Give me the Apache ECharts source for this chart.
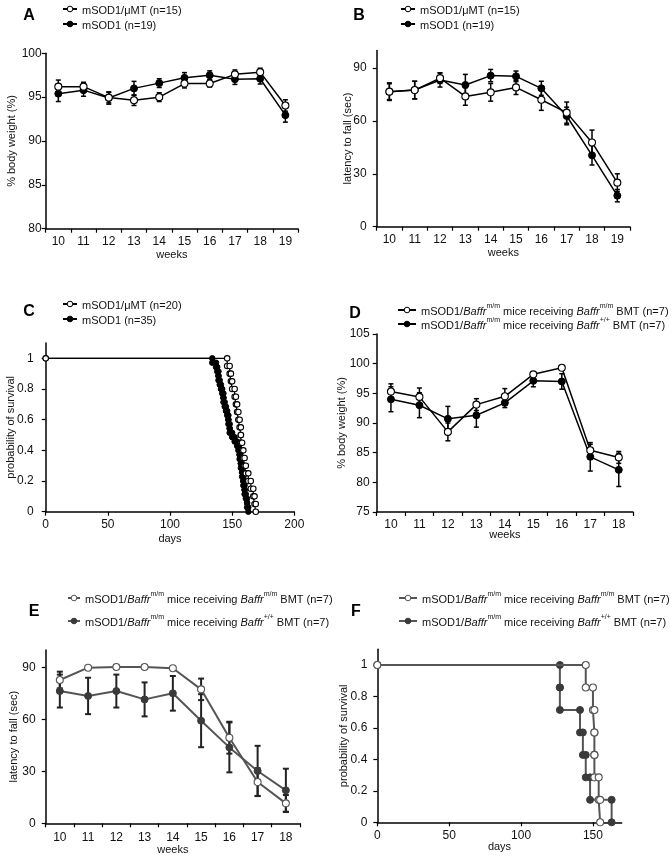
<!DOCTYPE html>
<html><head><meta charset="utf-8">
<script src="https://cdn.jsdelivr.net/npm/echarts@6/dist/echarts.min.js"></script>
<style>html,body{margin:0;padding:0;background:#fff}#c{width:671px;height:857px}</style>
</head><body><div id="c"></div>
<script>
// ---------- data ----------
const weeksAB = ['10','11','12','13','14','15','16','17','18','19'];
const weeksDE = ['10','11','12','13','14','15','16','17','18'];

const aOpen = [96.2,96.2,94.95,94.65,95.0,96.55,96.55,97.6,97.85,94.05];
const aOpenErr = [0.75,0.5,0.6,0.6,0.5,0.5,0.4,0.5,0.45,0.65];
const aFilled = [95.4,95.8,94.9,96.0,96.6,97.2,97.5,97.05,97.1,92.95];
const aFilledErr = [0.9,0.7,0.7,0.8,0.5,0.6,0.5,0.6,0.6,0.8];
const aYTicks = [80,85,90,95,100];

const bOpen = [76.6,77.5,84.3,73.9,76.2,79.0,72.0,64.7,47.8,25.0];
const bOpenErr = [5,5,3,5,5,4,6,6,7,5];
const bFilled = [76.6,77.5,83.2,80.4,85.7,85.3,78.5,62.8,40.5,17.6];
const bFilledErr = [4.5,5,4,6,3.5,3,4,5,5.5,3.5];
const bYTicks = [0,30,60,90];

// survival: death times (days)
const cOpenDeaths = [146,148,149,150,152,153,154,155,156,157,157,158,159,160,161,163,165,167,168,169];
const cFilledDeaths = [134,137,138,139,139,140,141,142,143,143,144,145,146,147,147,148,148,150,152,154,155,156,156,157,157,158,158,159,159,160,160,161,162,162,163];
const cXTicks = [0,50,100,150,200];
const survTicks = [0,0.2,0.4,0.6,0.8,1];

const dOpen = [95.3,94.4,88.5,93.1,94.5,98.2,99.3,85.4,84.2];
const dOpenErr = [1.3,1.5,1.5,1.0,1.3,0.4,0.3,1.0,1.0];
const dFilled = [94.0,93.0,90.7,91.3,93.4,97.1,97.0,84.3,82.1];
const dFilledErr = [2.1,2.1,2.1,2.0,0.8,1.0,1.3,2.4,2.8];
const dYTicks = [75,80,85,90,95,100,105];

const eOpen = [82.7,89.8,90.2,90.2,89.5,77.3,49.4,23.8,11.5];
const eOpenErr = [4.8,0,0,0,0,6.2,9.2,8,4.8];
const eFilled = [76.3,73.5,76.3,71.5,75.0,59.2,43.8,30.2,19.0];
const eFilledErr = [9.5,10.5,9.5,9.8,10,15.3,14.4,14.5,12.5];
const eYTicks = [0,30,60,90];

const fOpenDeaths = [145,150,151,151,151,154,155];
const fFilledDeaths = [127,127,141,143,145,148,163];
const fXTicks = [0,50,100,150];

const legendText = {
  A_open: '{t|mSOD1/μMT (n=15)}', A_filled: '{t|mSOD1 (n=19)}',
  B_open: '{t|mSOD1/μMT (n=15)}', B_filled: '{t|mSOD1 (n=19)}',
  C_open: '{t|mSOD1/μMT (n=20)}', C_filled: '{t|mSOD1 (n=35)}',
  D_open: '{t|mSOD1/}{i|Baffr}{s|m/m}{t| mice receiving }{i|Baffr}{s|m/m}{t| BMT (n=7)}',
  D_filled: '{t|mSOD1/}{i|Baffr}{s|m/m}{t| mice receiving }{i|Baffr}{s|+/+}{t| BMT (n=7)}',
  E_open: '{t|mSOD1/}{i|Baffr}{s|m/m}{t| mice receiving }{i|Baffr}{s|m/m}{t| BMT (n=7)}',
  E_filled: '{t|mSOD1/}{i|Baffr}{s|m/m}{t| mice receiving }{i|Baffr}{s|+/+}{t| BMT (n=7)}',
  F_open: '{t|mSOD1/}{i|Baffr}{s|m/m}{t| mice receiving }{i|Baffr}{s|m/m}{t| BMT (n=7)}',
  F_filled: '{t|mSOD1/}{i|Baffr}{s|m/m}{t| mice receiving }{i|Baffr}{s|+/+}{t| BMT (n=7)}'
};
const panelLetters = ['A','B','C','D','E','F'];

// ---------- helpers ----------
const FF = '"Liberation Sans", Arial, sans-serif';
const nameStyle = {fontSize: 11, color: '#111', fontFamily: FF};

function km(deaths, n) {
  const pts = [[0, 1]];
  let s = 1;
  deaths.forEach((t, i) => {
    const next = 1 - (i + 1) / n;
    pts.push([t, s]); pts.push([t, next]);
    s = next;
  });
  return pts;
}

function catX(gi, data, name, gap, margin) {
  return {gridIndex: gi, type: 'category', data: data, boundaryGap: true,
    name: name, nameLocation: 'middle', nameGap: gap, nameTextStyle: nameStyle, nameMoveOverlap: false,
    axisLine: {lineStyle: {color: '#000', width: 1.5}},
    axisTick: {show: true, length: 4, lineStyle: {color: '#000', width: 1.2}},
    axisLabel: {interval: 0, color: '#111', fontSize: 12, margin: margin, fontFamily: FF},
    splitLine: {show: false}};
}
function valAxis(gi, ticks, max, name, gap, margin, isX, fmt) {
  return {gridIndex: gi, type: 'value', min: ticks[0], max: max,
    name: name, nameLocation: 'middle', nameGap: gap, nameTextStyle: nameStyle, nameMoveOverlap: false,
    nameRotate: isX ? 0 : 90,
    axisLine: {show: true, lineStyle: {color: '#000', width: 1.5}},
    axisTick: {show: true, length: 4, customValues: ticks, lineStyle: {color: '#000', width: 1.2}},
    axisLabel: {customValues: ticks, color: '#111', fontSize: 12, margin: margin, fontFamily: FF,
      formatter: fmt || (v => String(v))},
    splitLine: {show: false}};
}
function lineS(name, gi, data, open, col, fillCol, lw, size) {
  return {name: name, type: 'line', xAxisIndex: gi, yAxisIndex: gi, data: data,
    symbol: 'circle', symbolSize: size, showSymbol: true, showAllSymbol: true,
    lineStyle: {color: col, width: lw},
    itemStyle: open ? {color: '#fff', borderColor: col, borderWidth: 1.1}
                    : {color: fillCol, borderColor: fillCol, borderWidth: 1},
    emphasis: {disabled: true}, z: open ? 4 : 3, animation: false};
}
function errS(gi, means, errs, col, lw, cap) {
  return {type: 'custom', xAxisIndex: gi, yAxisIndex: gi, silent: true, z: 2,
    data: means.map((m, i) => [i, m, errs[i]]), encode: {x: 0, y: 1},
    renderItem: function (p, api) {
      const x = api.value(0), m = api.value(1), e = api.value(2);
      if (!e) return {type: 'group', children: []};
      const hi = api.coord([x, m + e]), lo = api.coord([x, m - e]);
      const st = {stroke: col, lineWidth: lw};
      return {type: 'group', children: [
        {type: 'line', shape: {x1: hi[0], y1: hi[1], x2: lo[0], y2: lo[1]}, style: st},
        {type: 'line', shape: {x1: hi[0] - cap, y1: hi[1], x2: hi[0] + cap, y2: hi[1]}, style: st},
        {type: 'line', shape: {x1: lo[0] - cap, y1: lo[1], x2: lo[0] + cap, y2: lo[1]}, style: st}
      ]};
    }, animation: false};
}
function legendCfg(names, left, top, w, h, gap) {
  return {data: names, orient: 'vertical', left: left, top: top, itemWidth: w, itemHeight: h, itemGap: gap,
    selectedMode: false, formatter: n => legendText[n],
    itemStyle: {borderWidth: 1},
    textStyle: {fontFamily: FF, fontSize: 11, color: '#111', rich: {
      t: {fontSize: 11, fontFamily: FF, color: '#111', lineHeight: 14, verticalAlign: 'bottom'},
      i: {fontSize: 11, fontFamily: FF, fontStyle: 'italic', color: '#111', lineHeight: 14, verticalAlign: 'bottom'},
      s: {fontSize: 7, fontFamily: FF, color: '#111', lineHeight: 8, verticalAlign: 'top'}
    }}};
}

const BLK = '#000', GRY = '#555', GFILL = '#3a3a3a';
const survFmt = v => (v === 1 ? '1' : String(v));

const option = {
  animation: false,
  backgroundColor: '#fff',
  grid: [
    {left: 45.7, top: 53.3, width: 252.3, height: 175.4, outerBoundsMode: 'none'},
    {left: 376.7, top: 50.4, width: 253.3, height: 176.3, outerBoundsMode: 'none'},
    {left: 45.7, top: 343, width: 248.6, height: 168.7, outerBoundsMode: 'none'},
    {left: 376.7, top: 334, width: 256.3, height: 178, outerBoundsMode: 'none'},
    {left: 45.7, top: 650, width: 254.3, height: 173.3, outerBoundsMode: 'none'},
    {left: 377.3, top: 649.3, width: 244.4, height: 173, outerBoundsMode: 'none'}
  ],
  xAxis: [
    catX(0, weeksAB, 'weeks', 21, 7),
    catX(1, weeksAB, 'weeks', 21, 7),
    valAxis(2, cXTicks, 200, 'days', 22, 7, true),
    catX(3, weeksDE, 'weeks', 17, 7),
    catX(4, weeksDE, 'weeks', 21, 8),
    valAxis(5, fXTicks, 170, 'days', 19, 7, true)
  ],
  yAxis: [
    valAxis(0, aYTicks, 100, '% body weight (%)', 28, 4, false),
    valAxis(1, bYTicks, 100, 'latency to fall (sec)', 23, 10, false),
    valAxis(2, survTicks, 1.1, 'probability of survival', 29, 12, false, survFmt),
    valAxis(3, dYTicks, 105, '% body weight (%)', 29, 7, false),
    valAxis(4, eYTicks, 100, 'latency to fall (sec)', 26, 10, false),
    valAxis(5, survTicks, 1.1, 'probability of survival', 28, 10, false, survFmt)
  ],
  legend: [
    legendCfg(['A_open', 'A_filled'], 57, 0, 14, 7, 4),
    legendCfg(['B_open', 'B_filled'], 395, 0, 14, 7, 4),
    legendCfg(['C_open', 'C_filled'], 57, 295, 14, 7, 4),
    legendCfg(['D_open', 'D_filled'], 392, 298, 18, 7, 0),
    legendCfg(['E_open', 'E_filled'], 62, 586, 12, 7, 9),
    legendCfg(['F_open', 'F_filled'], 393, 586, 18, 7, 9)
  ],
  series: [
    errS(0, aFilled, aFilledErr, BLK, 1.5, 2.5),
    errS(0, aOpen, aOpenErr, BLK, 1.5, 2.5),
    lineS('A_filled', 0, aFilled, false, BLK, BLK, 1.5, 7),
    lineS('A_open', 0, aOpen, true, BLK, BLK, 1.5, 7),

    errS(1, bFilled, bFilledErr, BLK, 1.5, 2.5),
    errS(1, bOpen, bOpenErr, BLK, 1.5, 2.5),
    lineS('B_filled', 1, bFilled, false, BLK, BLK, 1.5, 7),
    lineS('B_open', 1, bOpen, true, BLK, BLK, 1.5, 7),

    lineS('C_filled', 2, km(cFilledDeaths, cFilledDeaths.length), false, BLK, BLK, 1.2, 5.5),
    lineS('C_open', 2, km(cOpenDeaths, cOpenDeaths.length), true, BLK, BLK, 1.2, 5.5),

    errS(3, dFilled, dFilledErr, BLK, 1.5, 2.5),
    errS(3, dOpen, dOpenErr, BLK, 1.5, 2.5),
    lineS('D_filled', 3, dFilled, false, BLK, BLK, 1.5, 7),
    lineS('D_open', 3, dOpen, true, BLK, BLK, 1.5, 7),

    errS(4, eFilled, eFilledErr, '#222', 2, 3),
    errS(4, eOpen, eOpenErr, '#222', 2, 3),
    lineS('E_filled', 4, eFilled, false, GRY, GFILL, 2, 7),
    lineS('E_open', 4, eOpen, true, GRY, GFILL, 2, 7),

    lineS('F_filled', 5, km(fFilledDeaths, fFilledDeaths.length), false, GRY, GFILL, 2, 7),
    lineS('F_open', 5, km(fOpenDeaths, fOpenDeaths.length), true, GRY, GFILL, 2, 7)
  ],
  graphic: [
    [29, 16], [359, 16], [29, 312], [355, 314], [34, 612], [356, 612]
  ].map((p, i) => ({type: 'text', x: p[0], y: p[1], silent: true,
    style: {text: panelLetters[i], fontSize: 16, fontWeight: 'bold', fontFamily: FF, fill: '#000',
      textAlign: 'center', textVerticalAlign: 'middle'}}))
};

const chart = echarts.init(document.getElementById('c'), null, {renderer: 'canvas'});
chart.setOption(option);
</script>
</body></html>
